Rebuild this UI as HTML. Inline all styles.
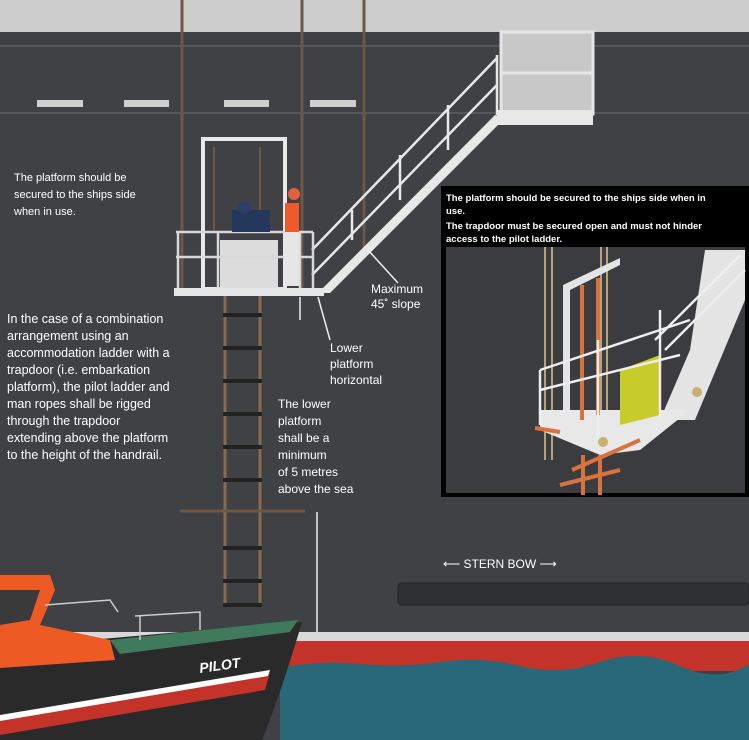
<!DOCTYPE html>
<html><head><meta charset="utf-8"><style>
html,body{margin:0;padding:0;background:#404144}
svg{display:block}
text{font-family:"Liberation Sans",sans-serif;fill:#fff}
</style></head><body>
<svg width="749" height="740" viewBox="0 0 749 740" xmlns="http://www.w3.org/2000/svg">
<rect width="749" height="740" fill="#404145"/>
<rect width="749" height="32" fill="#cdcdcd"/>
<line x1="0" y1="46" x2="749" y2="46" stroke="#55575b" stroke-width="2"/>
<line x1="0" y1="113" x2="749" y2="113" stroke="#55575b" stroke-width="2"/>
<g fill="#cfcfcf">
<rect x="37" y="100" width="46" height="7"/><rect x="124" y="100" width="45" height="7"/>
<rect x="224" y="100" width="45" height="7"/><rect x="310" y="100" width="46" height="7"/>
</g>
<g stroke="#6e5845" stroke-width="3">
<line x1="182" y1="0" x2="182" y2="292"/><line x1="302" y1="0" x2="302" y2="292"/><line x1="364" y1="0" x2="364" y2="250"/>
</g>
<rect x="501" y="32" width="92" height="82" fill="#c8c8c8" stroke="#e6e6e6" stroke-width="3"/>
<line x1="501" y1="73" x2="593" y2="73" stroke="#e6e6e6" stroke-width="3"/>
<rect x="497" y="110" width="96" height="15" fill="#e8e8e8"/>
<polygon points="318,293 330,293 505,118 495,115" fill="#e8e8e8"/>
<g stroke="#e8e8e8" stroke-width="2.5" fill="none">
<line x1="312" y1="250" x2="497" y2="58"/>
<line x1="312" y1="275" x2="497" y2="85"/>
<line x1="497" y1="55" x2="497" y2="115"/>
<line x1="352" y1="210" x2="352" y2="240"/><line x1="400" y1="155" x2="400" y2="200"/><line x1="448" y1="105" x2="448" y2="150"/>
</g>
<g stroke="#e8e8e8" stroke-width="4" fill="none">
<rect x="203" y="139" width="82" height="150"/>
</g>
<rect x="220" y="240" width="58" height="48" fill="#dcdcdc"/>
<g stroke="#6e5845" stroke-width="2"><line x1="214" y1="147" x2="214" y2="230"/><line x1="260" y1="147" x2="260" y2="230"/></g>
<g stroke="#d8d8d8" stroke-width="2.5" fill="none">
<line x1="176" y1="232" x2="313" y2="232"/><line x1="176" y1="257" x2="313" y2="257"/>
<line x1="178" y1="232" x2="178" y2="290"/><line x1="218" y1="232" x2="218" y2="290"/><line x1="300" y1="232" x2="300" y2="290"/><line x1="313" y1="232" x2="313" y2="290"/>
</g>
<rect x="174" y="288" width="150" height="8" fill="#e6e6e6"/>
<rect x="232" y="210" width="38" height="22" fill="#24385c"/>
<circle cx="244" cy="208" r="6" fill="#2a3f6c"/>
<rect x="285" y="203" width="14" height="30" fill="#ef5a2a"/>
<rect x="285" y="232" width="14" height="54" fill="#e6e6e6"/>
<circle cx="294" cy="194" r="6" fill="#e06040"/>
<g stroke="#8a6a4e" stroke-width="3">
<line x1="225" y1="296" x2="225" y2="605"/><line x1="260" y1="296" x2="260" y2="605"/>
</g>
<g stroke="#222" stroke-width="4">
<line x1="223" y1="315" x2="262" y2="315"/><line x1="223" y1="348" x2="262" y2="348"/><line x1="223" y1="381" x2="262" y2="381"/>
<line x1="223" y1="414" x2="262" y2="414"/><line x1="223" y1="447" x2="262" y2="447"/><line x1="223" y1="480" x2="262" y2="480"/>
<line x1="223" y1="548" x2="262" y2="548"/><line x1="223" y1="581" x2="262" y2="581"/><line x1="223" y1="605" x2="262" y2="605"/>
</g>
<line x1="180" y1="511" x2="305" y2="511" stroke="#6e5845" stroke-width="3"/>
<g stroke="#eee" stroke-width="1.5" fill="none">
<line x1="368" y1="250" x2="398" y2="283"/><line x1="318" y1="297" x2="330" y2="340"/><line x1="300" y1="297" x2="300" y2="320"/>
<line x1="317" y1="512" x2="317" y2="663"/>
</g>
<polygon points="313,658 321,658 317,667" fill="#eee"/>
<text font-size="11"><tspan x="14" y="181">The platform should be</tspan><tspan x="14" y="198">secured to the ships side</tspan><tspan x="14" y="215">when in use.</tspan></text>
<text font-size="12.5"><tspan x="7" y="323">In the case of a combination</tspan><tspan x="7" y="340">arrangement using an</tspan><tspan x="7" y="357">accommodation ladder with a</tspan><tspan x="7" y="374">trapdoor (i.e. embarkation</tspan><tspan x="7" y="391">platform), the pilot ladder and</tspan><tspan x="7" y="408">man ropes shall be rigged</tspan><tspan x="7" y="425">through the trapdoor</tspan><tspan x="7" y="442">extending above the platform</tspan><tspan x="7" y="459">to the height of the handrail.</tspan></text>
<text font-size="12"><tspan x="371" y="293">Maximum</tspan><tspan x="371" y="308">45˚ slope</tspan></text>
<text font-size="12"><tspan x="330" y="352">Lower</tspan><tspan x="330" y="368">platform</tspan><tspan x="330" y="384">horizontal</tspan></text>
<text font-size="12"><tspan x="278" y="408">The lower</tspan><tspan x="278" y="425">platform</tspan><tspan x="278" y="442">shall be a</tspan><tspan x="278" y="459">minimum</tspan><tspan x="278" y="476">of 5 metres</tspan><tspan x="278" y="493">above the sea</tspan></text>
<rect x="441" y="186" width="308" height="311" fill="#000"/>
<rect x="446" y="247" width="299" height="246" fill="#3b3c40"/>
<text font-size="9.5" font-weight="bold"><tspan x="446" y="201">The platform should be secured to the ships side when in</tspan><tspan x="446" y="214">use.</tspan><tspan x="446" y="229">The trapdoor must be secured open and must not hinder</tspan><tspan x="446" y="242">access to the pilot ladder.</tspan></text>
<g stroke="#b8a27a" stroke-width="2"><line x1="545" y1="247" x2="545" y2="460"/><line x1="552" y1="247" x2="552" y2="460"/><line x1="601" y1="247" x2="601" y2="450"/><line x1="607" y1="247" x2="607" y2="450"/></g>
<polygon points="705,250 745,250 745,300 695,420 660,420 690,350" fill="#e4e4e4"/>
<g stroke="#eee" stroke-width="2.5"><line x1="655" y1="340" x2="740" y2="255"/><line x1="665" y1="350" x2="745" y2="270"/></g>
<polygon points="540,410 690,410 640,450 600,455 540,430" fill="#e8e8e8"/>
<polygon points="563,285 620,258 620,265 570,290 570,410 563,410" fill="#e4e4e4"/>
<g stroke="#d8723e" stroke-width="4"><line x1="582" y1="285" x2="582" y2="420"/><line x1="598" y1="278" x2="598" y2="415"/><line x1="583" y1="455" x2="583" y2="495"/><line x1="600" y1="455" x2="600" y2="495"/></g>
<g stroke="#d8723e" stroke-width="4"><line x1="572" y1="470" x2="640" y2="440"/><line x1="560" y1="485" x2="620" y2="470"/><line x1="535" y1="428" x2="560" y2="432"/></g>
<polygon points="620,370 660,355 660,415 620,425" fill="#c8cc2a"/>
<g stroke="#eee" stroke-width="2.5" fill="none"><polyline points="540,370 540,425"/><polyline points="540,370 660,330 690,320"/><polyline points="540,390 680,355"/><line x1="598" y1="340" x2="598" y2="440"/><line x1="660" y1="310" x2="660" y2="420"/></g>
<circle cx="603" cy="442" r="5" fill="#c9b070"/><circle cx="697" cy="392" r="5" fill="#c9b070"/>
<text x="443" y="568" font-size="12">⟵ STERN BOW ⟶</text>
<rect x="398" y="583" width="351" height="22" rx="4" fill="#2f3033" stroke="#222"/>
<rect x="0" y="632" width="749" height="9" fill="#d9d9d9"/>
<rect x="0" y="641" width="749" height="30" fill="#c43329"/>
<path d="M280,668 Q320,660 360,664 T440,662 T520,666 T600,662 T680,666 T749,664 L749,740 L280,740 Z" fill="#296878"/>
<path d="M0,655 L0,740 L262,740 Q282,690 302,622 L180,632 L0,648 Z" fill="#2a2a2a"/>
<path d="M0,718 L270,672 L265,690 L0,735 Z" fill="#c43329"/>
<path d="M0,715 L270,670 L268,676 L0,721 Z" fill="#fff"/>
<path d="M110,640 L298,620 L290,632 L120,654 Z" fill="#3f7a5c"/>
<path d="M0,575 L50,575 L55,590 L40,625 L110,640 L115,660 L0,668 Z" fill="#ee5a24"/>
<path d="M0,590 L40,590 L30,620 L0,625 Z" fill="#3a3a3a"/>
<g stroke="#ccc" stroke-width="1.5" fill="none"><path d="M45,605 L110,600 L118,612"/><path d="M135,616 L200,612 L200,630"/><line x1="140" y1="616" x2="140" y2="640"/></g>
<text x="200" y="673" font-size="14" font-weight="bold" font-style="italic" transform="rotate(-8 200 673)">PILOT</text>
</svg>
</body></html>
